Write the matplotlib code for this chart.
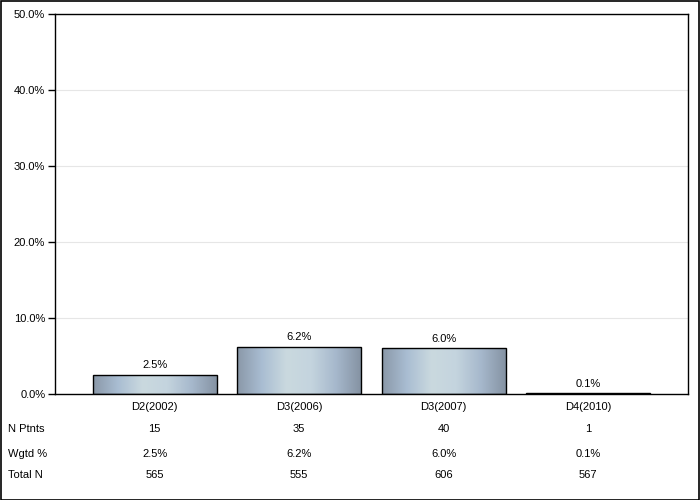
import numpy as np
import matplotlib.pyplot as plt
from matplotlib.patches import Rectangle
from matplotlib.colors import LinearSegmentedColormap

plt.rcParams['font.family'] = ['Liberation Sans', 'DejaVu Sans']

categories = ["D2(2002)", "D3(2006)", "D3(2007)", "D4(2010)"]
pct = [2.5, 6.2, 6.0, 0.1]
n_ptnts = ["15", "35", "40", "1"]
wgtd = ["2.5%", "6.2%", "6.0%", "0.1%"]
total_n = ["565", "555", "606", "567"]
yticks = [0, 10, 20, 30, 40, 50]

fig = plt.figure(figsize=(7, 5), dpi=100)
ax = fig.add_axes([55 / 700, 106 / 500, 633 / 700, 380 / 500])

# gradient used for the bar fill
cmap = LinearSegmentedColormap.from_list(
    "bar", ["#8a98a8", "#a9bdd2", "#cad9df", "#c4d4de", "#a6b8cc", "#8593a3"])
grad = np.linspace(0, 1, 256).reshape(1, -1)

width = 0.857
x = np.arange(len(categories))
for i, v in enumerate(pct):
    left = x[i] - width / 2
    im = ax.imshow(grad, cmap=cmap, aspect='auto', extent=[left, left + width, 0, v],
                   zorder=2, interpolation='bicubic')
    r = Rectangle((left, 0), width, v, facecolor='none', edgecolor='black', lw=1, zorder=3)
    ax.add_patch(r)
    im.set_clip_path(r)
    ax.text(x[i], v + 0.6, f"{v:.1f}%", ha='center', va='bottom', fontsize=8)

ax.set_xlim(-0.69, 3.69)
ax.set_ylim(0, 50)
ax.set_yticks(yticks)
ax.set_yticklabels([f"{t:.1f}%" for t in yticks], fontsize=8)
ax.set_xticks([])
ax.yaxis.grid(True, color='#e6e6e6', lw=0.8)
ax.set_axisbelow(True)
for s in ax.spines.values():
    s.set_linewidth(1)
ax.tick_params(axis='y', length=5, width=1, pad=2)

# table below axis
trans = ax.get_xaxis_transform()
rows_y = [407, 429, 454, 475]
for i in range(len(categories)):
    ax.text(x[i], 1 - (rows_y[0] - 14) / 380, categories[i], transform=trans, ha='center', va='center', fontsize=8)
    ax.text(x[i], 1 - (rows_y[1] - 14) / 380, n_ptnts[i], transform=trans, ha='center', va='center', fontsize=8)
    ax.text(x[i], 1 - (rows_y[2] - 14) / 380, wgtd[i], transform=trans, ha='center', va='center', fontsize=8)
    ax.text(x[i], 1 - (rows_y[3] - 14) / 380, total_n[i], transform=trans, ha='center', va='center', fontsize=8)
for lab, yy in zip(["N Ptnts", "Wgtd %", "Total N"], rows_y[1:]):
    fig.text(8 / 700, 1 - yy / 500, lab, ha='left', va='center', fontsize=8)

fig.patches.append(Rectangle((0.5 / 700, 0.5 / 500), 698.5 / 700, 498.5 / 500, transform=fig.transFigure,
                             fill=False, edgecolor='black', lw=1.2))

plt.savefig("out.png", dpi=100)
